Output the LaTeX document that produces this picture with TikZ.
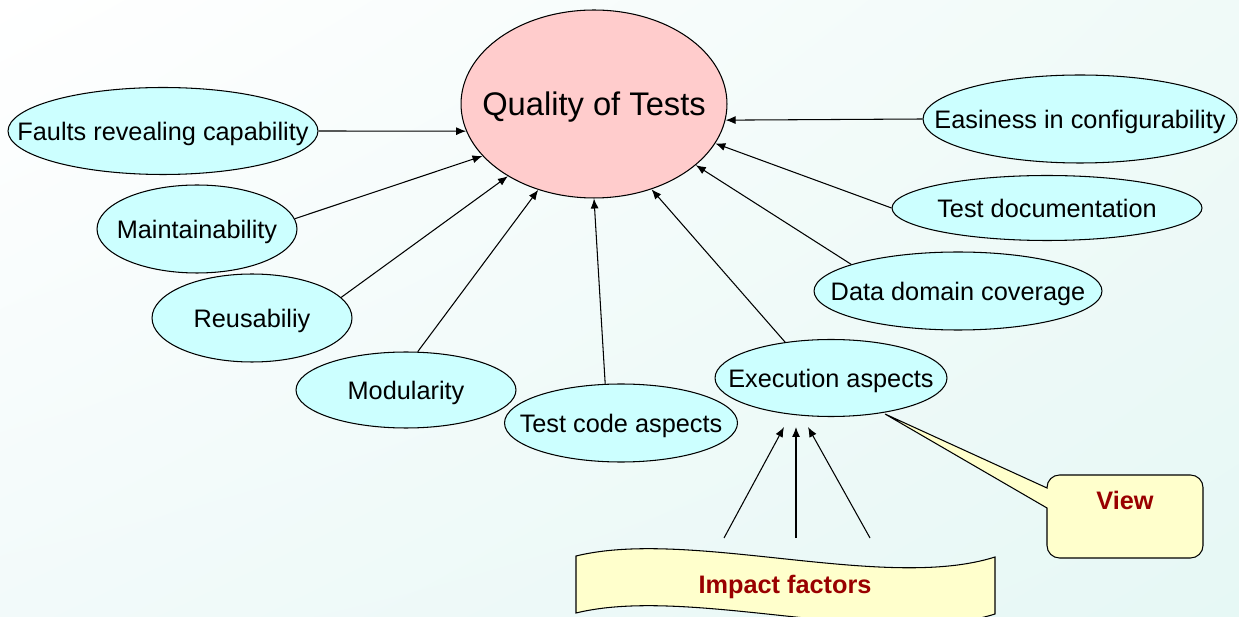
\documentclass[tikz,border=0pt]{standalone}
\usepackage{fontspec}
\setmainfont{Liberation Sans}
\usetikzlibrary{shapes.geometric,shadings,arrows.meta}
\definecolor{aspect}{HTML}{CCFFFF}
\definecolor{goal}{HTML}{FFCCCC}
\definecolor{note}{HTML}{FFFFCC}
\definecolor{notetext}{HTML}{990000}
\definecolor{bgur}{RGB}{240,250,248}
\definecolor{bgll}{RGB}{242,250,250}
\definecolor{bglr}{RGB}{230,248,245}
\newcommand{\ovaltext}[1]{\makebox[0pt]{#1}}
\tikzset{
    factor/.style={ellipse, draw, fill=aspect, inner sep=0pt, line width=0.6pt,
        text depth=0pt, font=\fontsize{14.4}{17}\selectfont},
    link/.style={-{Latex[length=0.2cm, width=0.16cm]}, line width=0.6pt},
    notelabel/.style={text=notetext, font=\bfseries\fontsize{14.4}{17}\selectfont}
}
\begin{document}
\begin{tikzpicture}[x=0.02cm, y=-0.02cm]
                \useasboundingbox (0,0) rectangle (1239,617);
                \shade[upper left=white, upper right=bgur, lower left=bgll, lower right=bglr] (0,0) rectangle (1239,617);
                % the goal and what it depends on
                \node[factor, fill=goal, minimum width=5.32cm, minimum height=3.76cm, font=\fontsize{18.6}{22}\selectfont] (quality) at (594,104) {\ovaltext{Quality of Tests}};
                \node[factor, minimum width=6.2cm, minimum height=1.74cm] (faults) at (163,131) {\ovaltext{Faults revealing capability}};
                \node[factor, minimum width=4cm, minimum height=1.76cm] (maint) at (197,229) {\ovaltext{Maintainability}};
                \node[factor, minimum width=4cm, minimum height=1.76cm] (reuse) at (252,318) {\ovaltext{Reusabiliy}};
                \node[factor, minimum width=4.4cm, minimum height=1.52cm] (modul) at (406,390) {\ovaltext{Modularity}};
                \node[factor, minimum width=4.66cm, minimum height=1.56cm] (tcode) at (621,423) {\ovaltext{Test code aspects}};
                \node[factor, minimum width=4.64cm, minimum height=1.54cm] (exec) at (831,378) {\ovaltext{Execution aspects}};
                \node[factor, minimum width=5.76cm, minimum height=1.56cm] (data) at (958,291) {\ovaltext{Data domain coverage}};
                \node[factor, minimum width=6.2cm, minimum height=1.3cm] (tdoc) at (1047,208) {\ovaltext{Test documentation}};
                \node[factor, minimum width=6.28cm, minimum height=1.76cm] (easy) at (1080,119) {\ovaltext{Easiness in configurability}};
                \draw[link] (faults.east) -- (quality.192);
                \draw[link] (maint.6) -- (quality.205);
                \draw[link] (reuse.13) -- (quality.220);
                \draw[link] (modul.73) -- (quality.237);
                \draw[link] (tcode.112) -- (quality.270);
                \draw[link] (exec.142) -- (quality.304);
                \draw[link] (data.166) -- (quality.329);
                \draw[link] (tdoc.west) -- (quality.342);
                \draw[link] (easy.west) -- (quality.353);
                % impact factors banner
                \foreach \i/\a/\b in {1/724/784, 2/796/796, 3/870/808} {
                    \coordinate (foot\i) at (\a,538);
                    \coordinate (head\i) at (\b,427);
                    \draw[link] (foot\i) -- (head\i);
                }
                \draw[fill=note, line width=0.6pt] (576,556) .. controls (690,528) and (885,592) .. (995,557) -- (995,614) .. controls (885,649) and (690,585) .. (576,613) -- cycle;
                \node[notelabel] (impact) at (785,587) {Impact factors};
                % view callout
                \draw[fill=note, line width=0.6pt] (1047,508) [rounded corners=0.25cm] -- (1047,558) -- (1203,558) -- (1203,475) -- (1047,475) [sharp corners] -- (1047,488) -- (885,414) -- cycle;
                \node[notelabel] (view) at (1125,500) {View};
            \end{tikzpicture}
\end{document}
